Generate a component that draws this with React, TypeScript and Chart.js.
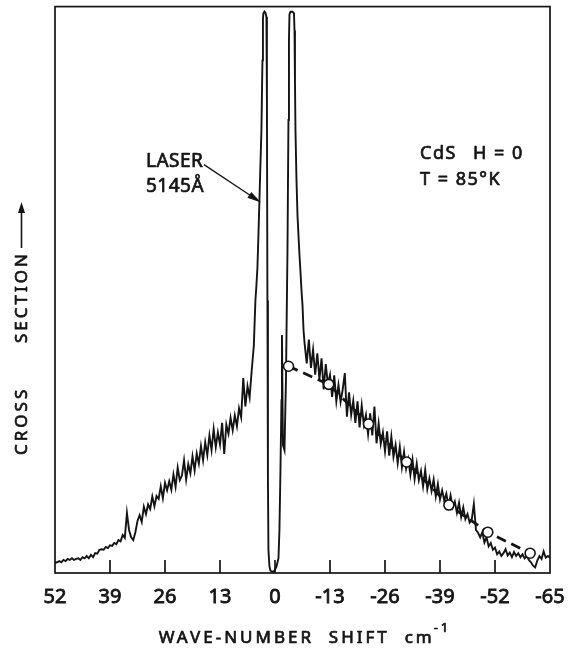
import React, { useEffect, useRef } from "react";
import { Chart, registerables } from "chart.js";

Chart.register(...registerables);

// ---- axis ----
const xTickValues = [52, 39, 26, 13, 0, -13, -26, -39, -52, -65];

// ---- anti-Stokes side (left of the laser line) ----
const antiStokesShift = [
  52, 51.5, 51, 50.5, 50, 49.5, 49, 48.5, 48, 47.5, 47, 46.5, 46, 45.5, 45, 44.5, 44, 43.5, 43, 42.5,
  42, 41.5, 41, 40.5, 40, 39.5, 39, 38.5, 38, 37.5, 37, 36.5, 36, 35.5, 35, 34.5, 34, 33.5, 33, 32.5,
  32, 31.5, 31, 30.5, 30, 29.5, 29, 28.5, 28, 27.5, 27, 26.5, 26, 25.5, 25, 24.5, 24, 23.5, 23, 22.5,
  22, 21.5, 21, 20.5, 20, 19.5, 19, 18.5, 18, 17.5, 17, 16.5, 16, 15.5, 15, 14.5, 14, 13.5, 13, 12.5,
  12, 11.5, 11, 10.5, 10, 9.5, 9, 8.5, 8, 7.5, 7, 6.5, 6, 5.5, 5,
];
const antiStokesSignal = [
  1.8, 1.9, 2.1, 1.9, 2.3, 2.1, 2.5, 2.3, 2.6, 2.3, 2.5, 2.6, 2.3, 2.8, 2.6, 3.0, 2.6, 3.2, 2.8, 3.5,
  3.4, 4.1, 4.2, 4.1, 4.6, 4.4, 4.9, 4.8, 5.3, 5.1, 5.8, 5.6, 6.7, 6.2, 10.6, 7.6, 6.3, 5.8, 7.2, 9.2,
  10.2, 9.0, 11.7, 10.4, 12.1, 11.3, 13.5, 11.8, 13.6, 13.1, 15.3, 13.2, 15.9, 14.6, 16.2, 14.7, 17.4, 15.2, 18.6, 16.4,
  17.2, 19.9, 16.5, 19.2, 17.6, 20.6, 18.1, 21.1, 19.3, 22.4, 19.9, 23.1, 20.8, 24.3, 21.7, 25.4, 22.2, 24.8, 22.7, 26.5,
  21.0, 26.2, 24.6, 27.4, 25.2, 27.8, 25.9, 29.1, 27.5, 34.4, 29.4, 33.0, 31.0, 35.8, 40.2,
];

// ---- laser line region (off-scale peaks, shutter dip) ----
const laserShift = [
  4.63, 4.39, 4.16, 3.92, 3.68, 3.45, 3.21, 2.97, 2.85, 2.74, 2.5, 2.26, 2.03, 1.91, 1.79, 1.67,
  1.55, 1.32, 1.08, 0.61, 0.13, -0.34, -0.82, -1.05, -1.29, -1.53, -1.65, -1.88, -2.24, -2.59, -2.95, -3.18,
  -3.3, -3.42, -3.66, -4.13, -4.49, -4.61, -4.72, -4.84, -5.08, -5.32, -5.55, -5.79, -6.03, -6.26, -6.5, -6.74,
];
const laserSignal = [
  48.1, 50.8, 53.8, 59.6, 65.8, 72.0, 78.1, 90.5, 97.9, 98.8, 99.1, 98.9, 98.2, 83.4, 48.1, 16.4,
  4.1, 1.2, 0.4, 0.2, 0.4, 1.1, 2.6, 7.6, 18.2, 30.5, 42.0, 22.6, 21.7, 34.0, 57.0, 80.0,
  94.0, 98.6, 99.1, 99.1, 98.8, 95.8, 86.9, 78.1, 69.3, 63.1, 59.6, 56.1, 53.1, 49.9, 47.3, 42.9,
];

// ---- Stokes side (right of the laser line) ----
const stokesShift = [
  -7, -7.5, -8, -8.5, -9, -9.5, -10, -10.5, -11, -11.5, -12, -12.5, -13, -13.5, -14, -14.5, -15, -15.5, -16, -16.5,
  -17, -17.5, -18, -18.5, -19, -19.5, -20, -20.5, -21, -21.5, -22, -22.5, -23, -23.5, -24, -24.5, -25, -25.5, -26, -26.5,
  -27, -27.5, -28, -28.5, -29, -29.5, -30, -30.5, -31, -31.5, -32, -32.5, -33, -33.5, -34, -34.5, -35, -35.5, -36, -36.5,
  -37, -37.5, -38, -38.5, -39, -39.5, -40, -40.5, -41, -41.5, -42, -42.5, -43, -43.5, -44, -44.5, -45, -45.5, -46, -46.5,
  -47, -47.5, -48, -48.5, -49, -49.5, -50, -50.5, -51, -51.5, -52, -52.5, -53, -53.5, -54, -54.5, -55, -55.5, -56, -56.5,
  -57, -57.5, -58, -58.5, -59, -59.5, -60, -60.5, -61, -61.5, -62, -62.5, -63, -63.5, -64, -64.5, -65,
];
const stokesSignal = [
  40.5, 37.0, 41.2, 36.2, 39.4, 35.0, 38.8, 34.2, 37.9, 32.4, 36.9, 33.3, 35.0, 31.1, 34.9, 30.3, 33.2, 30.2, 32.4, 35.3,
  27.6, 31.9, 27.9, 30.4, 26.5, 30.3, 25.7, 29.6, 26.2, 27.9, 24.5, 28.2, 24.3, 29.4, 22.9, 26.4, 22.8, 24.8, 21.5, 25.0,
  20.7, 24.1, 20.5, 22.6, 19.4, 22.3, 18.7, 21.4, 18.4, 20.1, 17.3, 20.0, 16.6, 19.3, 16.4, 18.0, 15.3, 18.2, 14.8, 16.7,
  14.5, 16.5, 13.5, 15.7, 13.0, 14.6, 12.8, 14.0, 11.8, 13.7, 11.6, 12.6, 10.6, 12.4, 9.9, 11.6, 9.5, 10.4, 8.9, 9.4,
  12.2, 7.6, 7.1, 6.3, 7.2, 5.4, 6.3, 4.7, 5.3, 4.1, 4.5, 3.3, 3.8, 3.0, 3.5, 4.2, 3.1, 3.6, 2.8, 3.7,
  3.0, 3.5, 2.8, 3.3, 2.6, 3.0, 2.3, 1.9, 1.3, 1.0, 2.2, 3.0, 2.5, 3.8, 2.7, 3.0, 2.7,
];

// ---- fitted points (circles on the dashed curve) ----
const fitShift = [-3.2, -12.7, -22.1, -31.1, -41.1, -50.3, -60.3];
const fitSignal = [36.5, 33.3, 26.3, 19.6, 12.0, 7.2, 3.5];

const FONT = '"Noto Sans", "DejaVu Sans", sans-serif';
const INK = "#141414";

function pairs(xs: number[], ys: number[]) {
  return xs.map((x, i) => ({ x, y: ys[i] }));
}

const framePlugin = {
  id: "frameAndTicks",
  afterDatasetsDraw(chart: any) {
    const { ctx, chartArea: a } = chart;
    const xs = chart.scales.x;
    ctx.save();
    ctx.strokeStyle = INK;
    ctx.lineWidth = 1.7;
    ctx.strokeRect(a.left, a.top, a.right - a.left, a.bottom - a.top);
    xs.ticks.forEach((_t: any, i: number) => {
      const px = xs.getPixelForTick(i);
      if (px <= a.left + 2 || px >= a.right - 2) return;
      ctx.beginPath();
      ctx.moveTo(px, a.bottom);
      ctx.lineTo(px, a.bottom - 13);
      ctx.stroke();
    });
    ctx.restore();
  },
};

function label(ctx: any, text: string, x: number, y: number) {
  ctx.lineWidth = 0.7;
  ctx.strokeText(text, x, y);
  ctx.fillText(text, x, y);
}

const textPlugin = {
  id: "texts",
  afterDraw(chart: any) {
    const { ctx, chartArea: a } = chart;
    ctx.save();
    ctx.fillStyle = INK;
    ctx.strokeStyle = INK;
    ctx.lineJoin = "round";
    ctx.textBaseline = "alphabetic";
    ctx.textAlign = "left";

    // x-axis title
    ctx.font = `17px ${FONT}`;
    (ctx as any).letterSpacing = "3px";
    const main = "WAVE-NUMBER  SHIFT  cm";
    const wMain = ctx.measureText(main).width;
    ctx.font = `13px ${FONT}`;
    const sup = "-1";
    const wSup = ctx.measureText(sup).width;
    const cx = (a.left + a.right) / 2 + 3;
    const x0 = cx - (wMain + wSup) / 2;
    const base = a.bottom + 70;
    ctx.font = `17px ${FONT}`;
    label(ctx, main, x0, base);
    ctx.font = `13px ${FONT}`;
    label(ctx, sup, x0 + wMain - 1, base - 11);

    // y-axis title (rotated) with arrow
    ctx.save();
    ctx.translate(a.left - 28, a.bottom - 118);
    ctx.rotate(-Math.PI / 2);
    ctx.font = `17px ${FONT}`;
    (ctx as any).letterSpacing = "3px";
    label(ctx, "CROSS", 0, 0);
    label(ctx, "SECTION", 112, 0);
    ctx.restore();
    const ax = a.left - 33.5;
    const aBottom = a.bottom - 325;
    const aTip = a.bottom - 371;
    ctx.lineWidth = 1.6;
    ctx.beginPath();
    ctx.moveTo(ax, aBottom);
    ctx.lineTo(ax, aTip + 8);
    ctx.stroke();
    ctx.beginPath();
    ctx.moveTo(ax, aTip);
    ctx.lineTo(ax - 3.5, aTip + 11);
    ctx.lineTo(ax + 3.5, aTip + 11);
    ctx.closePath();
    ctx.fill();

    // LASER annotation
    ctx.font = `19px ${FONT}`;
    (ctx as any).letterSpacing = "0.5px";
    label(ctx, "LASER", a.left + 91, a.top + 160);
    label(ctx, "5145Å", a.left + 91, a.top + 185);
    const sx = a.left + 149, sy = a.top + 158;
    const tx = a.left + 206, ty = a.top + 196;
    const ang = Math.atan2(ty - sy, tx - sx);
    ctx.lineWidth = 1.3;
    ctx.beginPath();
    ctx.moveTo(sx, sy);
    ctx.lineTo(tx - 10 * Math.cos(ang), ty - 10 * Math.sin(ang));
    ctx.stroke();
    ctx.beginPath();
    ctx.moveTo(tx, ty);
    ctx.lineTo(
      tx - 14 * Math.cos(ang) + 3.5 * Math.sin(ang),
      ty - 14 * Math.sin(ang) - 3.5 * Math.cos(ang)
    );
    ctx.lineTo(
      tx - 14 * Math.cos(ang) - 3.5 * Math.sin(ang),
      ty - 14 * Math.sin(ang) + 3.5 * Math.cos(ang)
    );
    ctx.closePath();
    ctx.fill();

    // sample annotation
    ctx.font = `18px ${FONT}`;
    (ctx as any).letterSpacing = "1.5px";
    label(ctx, "CdS", a.left + 365, a.top + 152);
    label(ctx, "H = 0", a.left + 418, a.top + 152);
    label(ctx, "T = 85°K", a.left + 365, a.top + 178);
    ctx.restore();
  },
};

export default function App() {
  const ref = useRef<HTMLCanvasElement | null>(null);

  useEffect(() => {
    if (!ref.current) return;
    const trace = [
      ...pairs(antiStokesShift, antiStokesSignal),
      ...pairs(laserShift, laserSignal),
      ...pairs(stokesShift, stokesSignal),
    ];
    const chart = new Chart(ref.current, {
      type: "line",
      data: {
        datasets: [
          {
            label: "fit",
            data: pairs(fitShift, fitSignal),
            borderColor: INK,
            borderWidth: 2.8,
            borderDash: [10, 6],
            pointRadius: 5,
            pointBackgroundColor: "#ffffff",
            pointBorderColor: INK,
            pointBorderWidth: 1.6,
            tension: 0,
            order: 0,
          },
          {
            label: "spectrum",
            data: trace,
            borderColor: INK,
            borderWidth: 1.9,
            pointRadius: 0,
            tension: 0,
            order: 1,
          },
        ],
      },
      options: {
        animation: false,
        responsive: false,
        maintainAspectRatio: false,
        devicePixelRatio: 1,
        layout: { padding: { left: 55, right: 18, top: 6, bottom: 0 } },
        plugins: { legend: { display: false }, tooltip: { enabled: false } },
        scales: {
          x: {
            type: "linear",
            min: -65,
            max: 52,
            reverse: true,
            grid: { display: false, drawTicks: false },
            border: { display: false },
            afterBuildTicks: (s: any) => {
              s.ticks = xTickValues.map((v) => ({ value: v }));
            },
            afterFit: (s: any) => {
              s.height = 79;
              s.paddingLeft = 0;
              s.paddingRight = 0;
            },
            ticks: {
              autoSkip: false,
              maxRotation: 0,
              padding: 12,
              color: INK,
              textStrokeColor: INK,
              textStrokeWidth: 0.8,
              font: { family: FONT, size: 20 },
              callback: (v: any) => String(v),
            },
          },
          y: { type: "linear", display: false, min: 0, max: 100 },
        },
      },
      plugins: [framePlugin, textPlugin],
    });
    return () => chart.destroy();
  }, []);

  return (
    <div style={{ position: "fixed", left: 0, top: 0, width: 568, height: 652, background: "#fff" }}>
      <canvas ref={ref} width={568} height={652} style={{ display: "block", width: 568, height: 652 }} />
    </div>
  );
}
